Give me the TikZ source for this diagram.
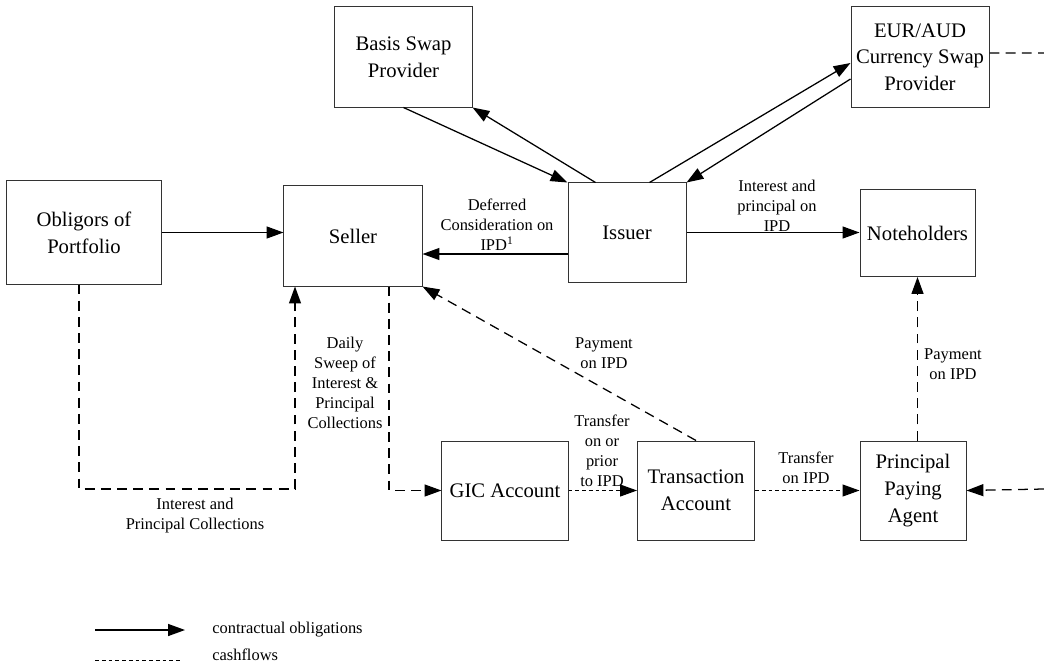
\documentclass[tikz,border=0pt]{standalone}
\usepackage{fontspec}
\setmainfont{Liberation Serif}
\usepackage{tikz}
\usetikzlibrary{positioning, arrows.meta}
\tikzset{party/.style={draw=black!80, line width=0.7pt, align=center, inner sep=0pt,
                       font=\fontsize{14.7}{19}\selectfont},
         lbl/.style={align=center, inner sep=0pt, font=\fontsize{11.7}{14.2}\selectfont},
         oblig/.style={->, line width=0.9pt},
         cashflow/.style={->, line width=0.9pt, dash pattern=on 7pt off 4.5pt},
         cashsmall/.style={->, line width=0.7pt, dash pattern=on 2.8pt off 2pt}}

\begin{document}
\begin{tikzpicture}[x=0.025cm, y=-0.025cm, >={Triangle[length=12pt, width=8.5pt]}]
        \useasboundingbox (0,0) rectangle (1044,665);

        % Nodes for the parties
        \node[party, minimum width=3.85cm, minimum height=2.575cm] (obl) at (84,232.5) {Obligors of\\Portfolio};
        \node[party, minimum width=3.45cm, minimum height=2.5cm] (seller) at (353,236) {Seller};
        \node[party, minimum width=3.425cm, minimum height=2.5cm] (basis) at (403.5,57) {Basis Swap\\Provider};
        \node[party, minimum width=2.95cm, minimum height=2.475cm] (issuer) at (627,232.5) {Issuer};
        \node[party, minimum width=3.45cm, minimum height=2.5cm] (eur) at (920,57) {EUR/AUD\\Currency Swap\\Provider};
        \node[party, minimum width=2.875cm, minimum height=2.175cm] (note) at (917.5,233) {Noteholders};

        % Nodes for the accounts
        \node[party, minimum width=3.15cm, minimum height=2.475cm] (gic) at (505,490.5) {GIC Account};
        \node[party, minimum width=2.925cm, minimum height=2.475cm] (trans) at (696,490.5) {Transaction\\Account};
        \node[party, minimum width=2.65cm, minimum height=2.475cm] (ppa) at (913,490.5) {Principal\\Paying\\Agent};

        % Loose ends
        \coordinate (eurout) at (1044,53);
        \coordinate (ppain) at (1044,489);
        \coordinate (collect) at (295,489);

        % Contractual obligations
        \draw[oblig] (obl.east) -- (obl.east -| seller.west);
        \draw[oblig] (issuer.west |- 0,254) -- (seller.east |- 0,254);
        \draw[oblig] (basis.south) -- (issuer.north west);
        \draw[oblig] ([xshift=0.7cm]issuer.north west) -- (basis.south east);
        \draw[oblig] ([xshift=2.05cm]issuer.north west) -- ([yshift=-0.15cm]eur.west);
        \draw[oblig] ([yshift=-0.55cm]eur.west) -- (issuer.north east);
        \draw[oblig] (issuer.east) -- (issuer.east -| note.west);

        % Cashflows
        \draw[cashflow, -] ([yshift=0.1cm]eur.east) -- (eurout);
        \draw[cashflow] (obl.south -| 79,0) |- (collect) -- (collect |- seller.south);
        \draw[cashflow] ([xshift=0.9cm]seller.south) |- (gic.west);
        \draw[cashflow] (trans.north) -- (seller.south east);
        \draw[cashsmall] (gic.east) -- (trans.west);
        \draw[cashsmall] (trans.east) -- (ppa.west);
        \draw[cashflow] (ppa.north -| note.south) -- (note.south);
        \draw[cashflow] (ppain) -- (ppa.east);

        % Labels
        \node[lbl] (deferred) at (497,225) {Deferred\\Consideration on\\IPD\textsuperscript{1}};
        \node[lbl] (intprin) at (777,206) {Interest and\\principal on\\IPD};
        \node[lbl] (collections) at (195,516) {Interest and\\Principal Collections};
        \node[lbl] (sweep) at (345,383) {Daily\\Sweep of\\Interest \&\\Principal\\Collections};
        \node[lbl] (paytrans) at (604,353) {Payment\\on IPD};
        \node[lbl] (prior) at (602,451) {Transfer\\on or\\prior\\to IPD};
        \node[lbl] (onipd) at (806,468) {Transfer\\on IPD};
        \node[lbl] (payppa) at (953,364) {Payment\\on IPD};

        % Legend
        \coordinate (leg1a) at (95,630);
        \coordinate (leg1b) at (185,630);
        \coordinate (leg2a) at (95,660);
        \coordinate (leg2b) at (182,660);
        \draw[oblig] (leg1a) -- (leg1b);
        \draw[cashsmall, -] (leg2a) -- (leg2b);
        \node[lbl, anchor=west] (legobl) at (212,630) {contractual obligations};
        \node[lbl, anchor=west] (legcash) at (212,655) {cashflows};

    \end{tikzpicture}
\end{document}
